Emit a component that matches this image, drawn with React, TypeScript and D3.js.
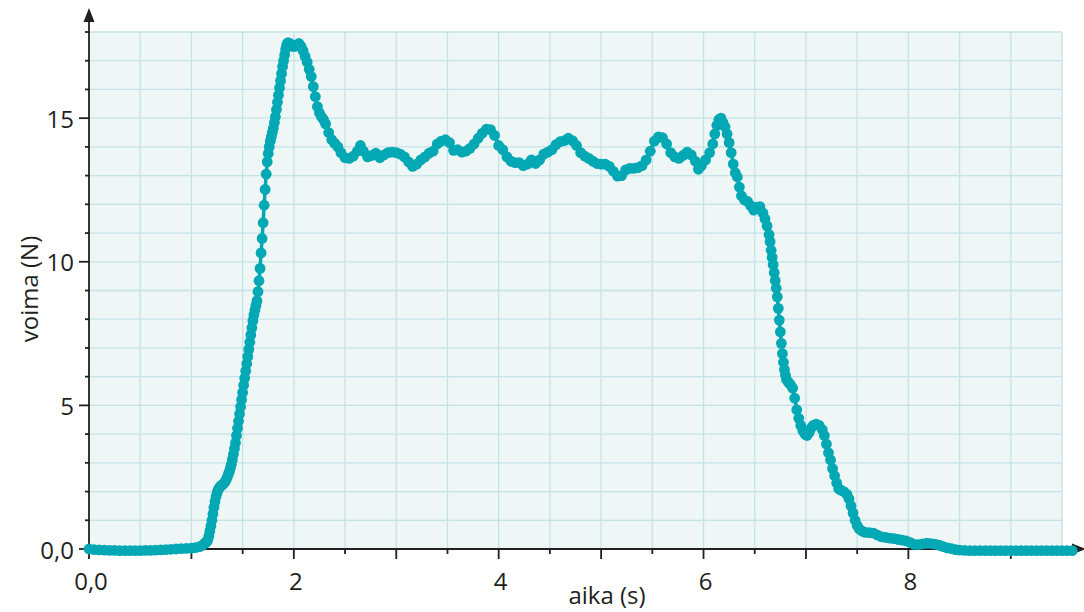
import React from 'react';
import * as d3 from 'd3';

// force sensor readings, [time (s), force (N)]
const baselineData: [number, number][] = [
  [0.00, 0.0], [0.05, -0.02], [0.10, -0.03], [0.15, -0.04], [0.20, -0.05], [0.25, -0.05],
  [0.30, -0.06], [0.35, -0.06], [0.40, -0.06], [0.45, -0.06], [0.50, -0.06], [0.55, -0.05],
  [0.60, -0.05], [0.65, -0.04], [0.70, -0.03], [0.75, -0.02], [0.80, -0.01], [0.85, 0.0],
  [0.90, 0.01], [0.95, 0.02], [1.00, 0.03], [1.04, 0.05], [1.08, 0.08], [1.11, 0.13],
];

const riseData: [number, number][] = [
  [1.13, 0.2], [1.14, 0.22], [1.15, 0.26], [1.16, 0.31], [1.17, 0.45], [1.18, 0.62], [1.19, 0.8],
  [1.20, 1.0], [1.21, 1.22], [1.22, 1.45], [1.23, 1.65], [1.24, 1.82], [1.25, 1.95], [1.26, 2.05],
  [1.27, 2.12], [1.28, 2.17], [1.29, 2.2], [1.30, 2.23], [1.31, 2.26], [1.32, 2.3], [1.33, 2.35],
  [1.34, 2.42], [1.35, 2.5], [1.36, 2.6], [1.37, 2.7], [1.38, 2.82], [1.39, 2.95], [1.40, 3.12],
  [1.41, 3.3], [1.42, 3.5], [1.43, 3.7], [1.44, 3.95], [1.45, 4.2], [1.46, 4.45], [1.47, 4.7],
  [1.48, 4.95], [1.49, 5.2], [1.50, 5.45], [1.51, 5.7], [1.52, 5.95], [1.53, 6.2], [1.54, 6.45],
  [1.55, 6.7], [1.56, 6.95], [1.57, 7.2], [1.58, 7.45], [1.59, 7.7], [1.60, 7.95], [1.61, 8.15],
  [1.62, 8.32], [1.63, 8.48], [1.64, 8.64], [1.65, 8.96], [1.66, 9.34], [1.67, 9.77], [1.68, 10.31],
  [1.69, 10.81], [1.70, 11.36], [1.71, 11.97], [1.72, 12.52], [1.73, 13.05], [1.74, 13.48],
  [1.75, 13.77], [1.76, 14.0], [1.77, 14.2], [1.78, 14.35], [1.79, 14.5], [1.80, 14.65],
  [1.81, 14.85], [1.82, 15.05], [1.83, 15.3], [1.84, 15.55], [1.85, 15.8], [1.86, 16.05],
  [1.87, 16.3], [1.88, 16.55], [1.89, 16.8], [1.90, 17.0], [1.91, 17.2], [1.92, 17.4],
  [1.93, 17.55], [1.94, 17.62], [1.95, 17.62], [1.97, 17.58], [1.99, 17.5], [2.01, 17.5],
  [2.03, 17.55], [2.05, 17.6], [2.07, 17.5], [2.09, 17.35], [2.11, 17.15], [2.13, 16.95],
  [2.15, 16.7], [2.17, 16.45], [2.19, 16.1], [2.21, 15.75], [2.23, 15.4], [2.25, 15.18],
  [2.27, 15.05], [2.29, 14.95],
];

const plateauData: [number, number][] = [
  [2.31, 14.8], [2.34, 14.5], [2.37, 14.25], [2.40, 14.12], [2.43, 14.0], [2.46, 13.8],
  [2.50, 13.62], [2.54, 13.6], [2.58, 13.68], [2.62, 13.85], [2.65, 14.05], [2.68, 13.85],
  [2.72, 13.65], [2.76, 13.7], [2.80, 13.78], [2.84, 13.62], [2.88, 13.72], [2.92, 13.8],
  [2.96, 13.82], [3.00, 13.8], [3.04, 13.75], [3.08, 13.65], [3.12, 13.48], [3.16, 13.32],
  [3.20, 13.4], [3.24, 13.55], [3.28, 13.65], [3.32, 13.78], [3.36, 13.85], [3.40, 14.1],
  [3.44, 14.2], [3.48, 14.25], [3.52, 14.15], [3.56, 13.88], [3.60, 13.9], [3.64, 13.82],
  [3.68, 13.85], [3.72, 13.95], [3.76, 14.1], [3.80, 14.3], [3.84, 14.48], [3.88, 14.62],
  [3.92, 14.6], [3.96, 14.4], [4.00, 14.05], [4.04, 13.9], [4.08, 13.65], [4.12, 13.5],
  [4.16, 13.45], [4.20, 13.45], [4.24, 13.35], [4.28, 13.4], [4.32, 13.55], [4.36, 13.42],
  [4.40, 13.55], [4.44, 13.75], [4.48, 13.82], [4.52, 13.9], [4.56, 14.08], [4.60, 14.18],
  [4.64, 14.22], [4.68, 14.3], [4.72, 14.22], [4.76, 14.05], [4.80, 13.8], [4.84, 13.68],
  [4.88, 13.6], [4.92, 13.5], [4.96, 13.42], [5.00, 13.4], [5.04, 13.4], [5.08, 13.32],
  [5.12, 13.15], [5.16, 12.98], [5.20, 13.0], [5.24, 13.2], [5.28, 13.25], [5.32, 13.25],
  [5.36, 13.28], [5.40, 13.35], [5.44, 13.55], [5.48, 13.85], [5.52, 14.2], [5.56, 14.35],
  [5.60, 14.32], [5.64, 14.1], [5.68, 13.8], [5.72, 13.65], [5.76, 13.6], [5.80, 13.7],
  [5.84, 13.82], [5.88, 13.72], [5.92, 13.5], [5.95, 13.22], [5.98, 13.35], [6.02, 13.55],
  [6.06, 13.8], [6.09, 14.1], [6.11, 14.45], [6.13, 14.75], [6.15, 14.95], [6.17, 15.0],
  [6.19, 14.85], [6.21, 14.7],
];

const fallData: [number, number][] = [
  [6.23, 14.45], [6.25, 14.15], [6.27, 13.8], [6.29, 13.4], [6.31, 13.1], [6.33, 12.95],
  [6.35, 12.6], [6.37, 12.3], [6.40, 12.15], [6.43, 12.1], [6.46, 11.95], [6.49, 11.8],
  [6.52, 11.9], [6.55, 11.92], [6.58, 11.7], [6.60, 11.5], [6.62, 11.25], [6.64, 10.95],
  [6.65, 10.7], [6.66, 10.4], [6.67, 10.15], [6.68, 9.9], [6.69, 9.62], [6.70, 9.35],
  [6.71, 9.08], [6.72, 8.78], [6.73, 8.38], [6.74, 7.97], [6.75, 7.56], [6.76, 7.16],
  [6.77, 6.8], [6.78, 6.5], [6.79, 6.25], [6.80, 6.05], [6.81, 5.9], [6.83, 5.8], [6.85, 5.72],
  [6.87, 5.6], [6.89, 5.25], [6.91, 4.85], [6.93, 4.55], [6.95, 4.3], [6.97, 4.12], [6.99, 4.0],
  [7.01, 3.95], [7.03, 4.05], [7.05, 4.2], [7.07, 4.3], [7.10, 4.35], [7.13, 4.3], [7.16, 4.15],
  [7.18, 3.95], [7.20, 3.65], [7.22, 3.35], [7.24, 3.1], [7.26, 2.8], [7.28, 2.55], [7.30, 2.3],
  [7.32, 2.1], [7.34, 2.05], [7.37, 2.0], [7.40, 1.9], [7.42, 1.75], [7.44, 1.5], [7.46, 1.25],
  [7.48, 1.0], [7.50, 0.82], [7.52, 0.7], [7.55, 0.62],
];

const tailData: [number, number][] = [
  [7.58, 0.58], [7.62, 0.57], [7.66, 0.55], [7.70, 0.48], [7.74, 0.42], [7.78, 0.4],
  [7.82, 0.38], [7.86, 0.36], [7.90, 0.33], [7.94, 0.31], [7.98, 0.28], [8.02, 0.22],
  [8.06, 0.16], [8.10, 0.15], [8.14, 0.18], [8.18, 0.2], [8.22, 0.19], [8.26, 0.17],
  [8.30, 0.13], [8.34, 0.08], [8.38, 0.04], [8.42, 0.01], [8.46, -0.02], [8.50, -0.04],
  [8.55, -0.05], [8.60, -0.06], [8.65, -0.06], [8.70, -0.06], [8.75, -0.06], [8.80, -0.06],
  [8.85, -0.06], [8.90, -0.06], [8.95, -0.06], [9.00, -0.06], [9.05, -0.06], [9.10, -0.06],
  [9.15, -0.06], [9.20, -0.06], [9.25, -0.06], [9.30, -0.06], [9.35, -0.06], [9.40, -0.06],
  [9.45, -0.06], [9.50, -0.06], [9.55, -0.06], [9.60, -0.06],
];

const xTickValues = [0, 2, 4, 6, 8];
const xTickLabels = ['0,0', '2', '4', '6', '8'];
const yTickValues = [0, 5, 10, 15];
const yTickLabels = ['0,0', '5', '10', '15'];
const xLabel = 'aika (s)';
const yLabel = 'voima (N)';

const width = 1084;
const height = 612;
const teal = '#02a8b3';
const ink = '#231f20';
const font = '"Open Sans", "Noto Sans", sans-serif';

export default function App() {
  const data = [...baselineData, ...riseData, ...plateauData, ...fallData, ...tailData];

  const x = d3.scaleLinear().domain([0, 9.5]).range([89, 1062]);
  const y = d3.scaleLinear().domain([0, 18]).range([549, 32]);

  const line = d3.line<[number, number]>()
    .x(d => x(d[0]))
    .y(d => y(d[1]));

  const vGrid = d3.range(0.5, 9.51, 0.5);
  const hGrid = d3.range(1, 18.5, 1);
  const xMinor = d3.range(0.5, 9.51, 1);
  const xMajor = d3.range(1, 9.5, 1);
  const yMinor = d3.range(1, 18.5, 1).filter(v => v % 5 !== 0);

  const x0 = x(0);
  const y0 = y(0);

  return (
    <svg
      width={width}
      height={height}
      style={{ position: 'absolute', left: 0, top: 0, display: 'block' }}
    >
      <rect x={x0} y={y(18)} width={x(9.5) - x0} height={y0 - y(18)} fill="#eef6f6" />

      <g className="grid" stroke="#c4e3e7" strokeWidth={1.3}>
        {vGrid.map(v => (
          <line key={'v' + v} x1={x(v)} x2={x(v)} y1={y(18)} y2={y0} />
        ))}
        {hGrid.map(v => (
          <line key={'h' + v} x1={x0} x2={x(9.5)} y1={y(v)} y2={y(v)} />
        ))}
      </g>

      {/* axes */}
      <g stroke={ink} strokeWidth={1.8}>
        <line x1={x0} x2={x0} y1={y0 + 1} y2={20} />
        <line x1={x0 - 1} x2={1076} y1={y0} y2={y0} />
        {xMajor.map(v => (
          <line key={'xM' + v} x1={x(v)} x2={x(v)} y1={y0} y2={y0 + 10} />
        ))}
        <line x1={x0} x2={x0} y1={y0} y2={y0 + 10} />
        {xMinor.map(v => (
          <line key={'xm' + v} x1={x(v)} x2={x(v)} y1={y0} y2={y0 + 5} />
        ))}
        {yTickValues.map(v => (
          <line key={'yM' + v} x1={x0 - 10} x2={x0} y1={y(v)} y2={y(v)} />
        ))}
        {yMinor.map(v => (
          <line key={'ym' + v} x1={x0 - 4} x2={x0} y1={y(v)} y2={y(v)} />
        ))}
      </g>
      <path d={`M${x0},8 L${x0 - 5.5},22 L${x0 + 5.5},22 Z`} fill={ink} />
      <path d={`M1086,${y0} L1072,${y0 - 5.5} L1072,${y0 + 5.5} Z`} fill={ink} />

      {/* measured force */}
      <path d={line(data) ?? ''} fill="none" stroke={teal} strokeWidth={3.5} strokeLinejoin="round" />
      <g fill={teal}>
        {data.map((d, i) => (
          <circle key={i} cx={x(d[0])} cy={y(d[1])} r={5.4} />
        ))}
      </g>

      <g fontFamily={font} fontSize={24} fill={ink}>
        {yTickValues.map((v, i) => (
          <text key={'yl' + v} x={x0 - 15} y={y(v)} textAnchor="end" dominantBaseline="central">
            {yTickLabels[i]}
          </text>
        ))}
        {xTickValues.map((v, i) => (
          <text key={'xl' + v} x={x(v) + 2} y={590} textAnchor="middle">
            {xTickLabels[i]}
          </text>
        ))}
        <text x={607} y={604} textAnchor="middle">{xLabel}</text>
        <text transform="translate(38, 289) rotate(-90)" textAnchor="middle">{yLabel}</text>
      </g>
    </svg>
  );
}
